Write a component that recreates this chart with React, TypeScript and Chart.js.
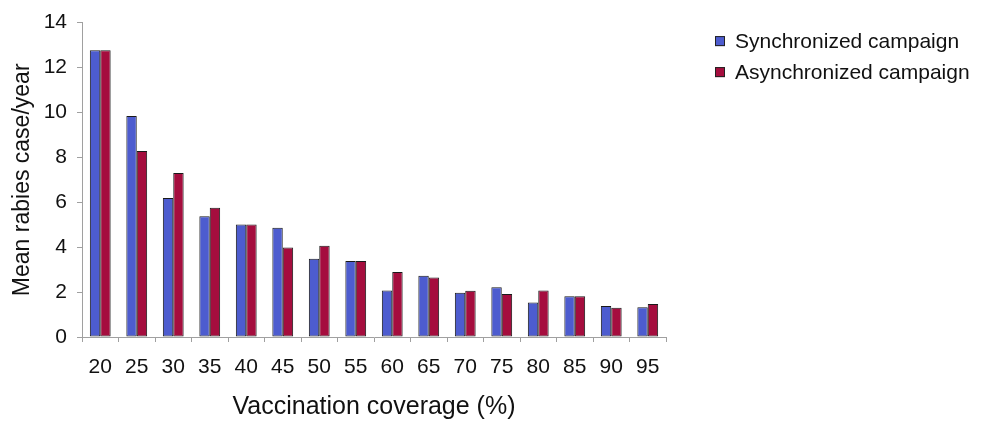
import React, { useEffect, useRef } from "react";
import { Chart, registerables } from "chart.js";

Chart.register(...registerables);

const categories = ["20", "25", "30", "35", "40", "45", "50", "55", "60", "65", "70", "75", "80", "85", "90", "95"];
const synchronized = [12.77, 9.84, 6.19, 5.38, 5.01, 4.86, 3.48, 3.38, 2.07, 2.73, 1.97, 2.21, 1.54, 1.82, 1.38, 1.32];
const asynchronized = [12.77, 8.28, 7.3, 5.76, 5.01, 3.99, 4.06, 3.38, 2.89, 2.65, 2.06, 1.91, 2.07, 1.82, 1.3, 1.47];
const seriesNames = ["Synchronized campaign", "Asynchronized campaign"];
const yTicks = [0, 2, 4, 6, 8, 10, 12, 14];

const FONT = '"Liberation Sans", Arial, Helvetica, sans-serif';
const BLUE = "#4d5ccf";
const RED = "#a50d3e";

const sideLegend = {
  id: "sideLegend",
  afterDraw(chart: any) {
    const { ctx, chartArea } = chart;
    const x0 = chartArea.right + 49;
    let y = chartArea.top + 18.5;
    chart.data.datasets.forEach((ds: any) => {
      ctx.save();
      ctx.fillStyle = ds.backgroundColor;
      ctx.fillRect(x0, y - 5, 10, 10);
      ctx.strokeStyle = "#222";
      ctx.lineWidth = 1;
      ctx.strokeRect(x0 + 0.5, y - 4.5, 9, 9);
      ctx.fillStyle = "#111";
      ctx.font = `21px ${FONT}`;
      ctx.textBaseline = "middle";
      ctx.textAlign = "left";
      ctx.fillText(ds.label, x0 + 20, y + 1);
      ctx.restore();
      y += 31;
    });
  },
};

export default function App() {
  const ref = useRef<HTMLCanvasElement>(null);
  useEffect(() => {
    if (!ref.current) return;
    const chart = new Chart(ref.current, {
      type: "bar",
      data: {
        labels: categories,
        datasets: [
          {
            label: seriesNames[0],
            data: synchronized,
            backgroundColor: BLUE,
            borderColor: "#1a1a1a",
            borderWidth: 1,
            borderSkipped: false,
            categoryPercentage: 0.57,
            barPercentage: 1.0,
          },
          {
            label: seriesNames[1],
            data: asynchronized,
            backgroundColor: RED,
            borderColor: "#1a1a1a",
            borderWidth: 1,
            borderSkipped: false,
            categoryPercentage: 0.57,
            barPercentage: 1.0,
          },
        ],
      },
      options: {
        responsive: false,
        animation: false,
        devicePixelRatio: 1,
        layout: { padding: { top: 22, right: 321, left: 0, bottom: 0 } },
        plugins: {
          legend: { display: false },
          tooltip: { enabled: false },
        },
        scales: {
          x: {
            afterFit: (s: any) => {
              s.height = 89;
            },
            grid: {
              display: true,
              drawOnChartArea: false,
              tickLength: 5,
              color: "#a0a0a0",
              offset: true,
            },
            border: { display: true, color: "#a0a0a0" },
            ticks: {
              color: "#111",
              font: { family: FONT, size: 21 },
              padding: 13,
              maxRotation: 0,
              autoSkip: false,
            },
            title: {
              display: true,
              text: "Vaccination coverage (%)",
              color: "#111",
              font: { family: FONT, size: 25 },
              padding: { top: 4, bottom: 4 },
            },
          },
          y: {
            min: 0,
            max: 14,
            afterFit: (s: any) => {
              s.width = 82;
            },
            afterBuildTicks: (s: any) => {
              s.ticks = yTicks.map((v) => ({ value: v }));
            },
            grid: {
              display: true,
              drawOnChartArea: false,
              tickLength: 5,
              color: "#a0a0a0",
            },
            border: { display: true, color: "#a0a0a0" },
            ticks: {
              color: "#111",
              font: { family: FONT, size: 21 },
              padding: 10,
            },
            title: {
              display: true,
              text: "Mean rabies case/year",
              color: "#111",
              font: { family: FONT, size: 23 },
              padding: { top: 9, bottom: 0 },
            },
          },
        },
      },
      plugins: [sideLegend],
    });
    return () => chart.destroy();
  }, []);
  return (
    <div style={{ position: "absolute", left: 0, top: 0, width: 987, height: 426, background: "#fff" }}>
      <canvas ref={ref} width={987} height={426} />
    </div>
  );
}
